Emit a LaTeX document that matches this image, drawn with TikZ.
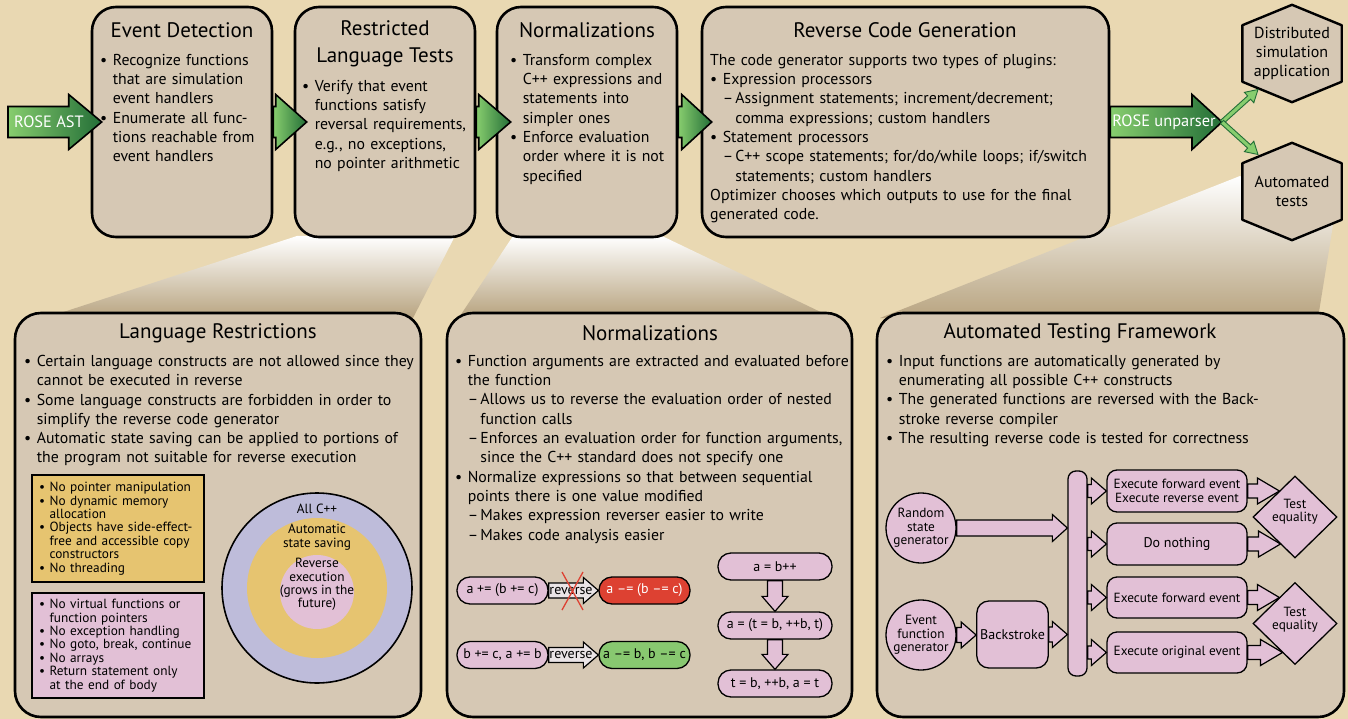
\documentclass[tikz,border=0pt]{standalone}
\usepackage{fontspec}
\setmainfont{PT Sans}
\usetikzlibrary{calc,positioning,shapes.geometric}

\definecolor{bgtan}{RGB}{233,216,178}
\definecolor{boxtan}{RGB}{214,200,180}
\definecolor{beamdk}{RGB}{184,164,128}
\definecolor{pinkfill}{RGB}{226,192,214}
\definecolor{lavfill}{RGB}{190,188,218}
\definecolor{yelfill}{RGB}{230,196,112}
\definecolor{redpill}{RGB}{221,65,50}
\definecolor{grnpill}{RGB}{136,200,112}
\definecolor{grnlt}{RGB}{135,205,110}
\definecolor{grndk}{RGB}{35,110,55}
\definecolor{revgray}{RGB}{234,228,230}

\pgfdeclarelayer{back}
\pgfdeclarelayer{mid}
\pgfsetlayers{back,mid,main}

\newcommand\ttlfont{\fontsize{21}{27}\selectfont}
\newcommand\txtfont{\fontsize{15.8}{19.3}\selectfont}
\newcommand\smfont{\fontsize{13.3}{13.4}\selectfont}
\newcommand\pillfont{\fontsize{14}{15}\selectfont}

% bullet and dash items
\newcommand\itm[1]{\hangindent=0.8em\hangafter=1\noindent\makebox[0.8em][l]{\textbullet}#1\par}
\newcommand\subitm[1]{\hangindent=1.6em\hangafter=1\noindent\hspace*{0.8em}\makebox[0.8em][l]{–}#1\par}

% block arrow: style, from, to, shaft half width, head half width, head length
\newcommand\blockarrow[6][]{%
  \draw[#1] let \p1=(#2), \p2=(#3),
    \n1={atan2(\y2-\y1,\x2-\x1)}, \n2={veclen(\x2-\x1,\y2-\y1)} in
    [shift={(\p1)}, rotate=\n1]
    (0pt,-#4) -- (\n2-#6,-#4) -- (\n2-#6,-#5) -- (\n2,0pt)
    -- (\n2-#6,#5) -- (\n2-#6,#4) -- (0pt,#4) -- cycle;}

% hexagon outline round a node
\newcommand\hexoutline[1]{%
  \begin{pgfonlayer}{mid}
  \draw[hexline] (#1.north) -- ($(#1.north east)!.21!(#1.south east)$)
    -- ($(#1.north east)!.79!(#1.south east)$) -- (#1.south)
    -- ($(#1.north west)!.79!(#1.south west)$)
    -- ($(#1.north west)!.21!(#1.south west)$) -- cycle;
  \end{pgfonlayer}}

\begin{document}
\begin{tikzpicture}[
    x=1pt, y=-1pt,
    stage/.style={draw=black, line width=2.6pt, fill=boxtan, rounded corners=24pt, minimum width=180pt, minimum height=230pt},
    panel/.style={draw=black, line width=2.6pt, fill=boxtan, rounded corners=26pt, minimum height=404pt},
    ttl/.style={font=\ttlfont, align=center, inner sep=0pt},
    txt/.style={font=\txtfont, align=left, inner sep=0pt, anchor=north west},
    hexnode/.style={minimum width=99pt, minimum height=97pt, inner sep=0pt, font=\fontsize{16}{19.3}\selectfont, align=center},
    hexline/.style={draw=black, line width=2.4pt, fill=boxtan, line join=round},
    beam/.style={top color=white, bottom color=beamdk},
    bigarrow/.style={draw=black, line width=1.6pt, left color=grnlt, right color=grndk},
    tinyarrow/.style={draw=grndk, line width=0.9pt, fill=grnlt},
    arrlbl/.style={font=\fontsize{16.4}{18}\selectfont, text=white, inner sep=0pt},
    note/.style={draw=black, line width=1.6pt, font=\smfont, align=left, text width=158pt, inner xsep=7pt},
    ring/.style={circle, inner sep=0pt},
    ringlbl/.style={font=\smfont, align=center, inner sep=0pt},
    pill/.style={draw=black, line width=1.3pt, fill=pinkfill, rounded corners=13pt, minimum height=27pt, inner sep=0pt, font=\pillfont},
    revarrow/.style={draw=black, line width=1.2pt, fill=revgray},
    downarrow/.style={draw=black, line width=1.2pt, fill=pinkfill},
    gen/.style={circle, draw=black, line width=1.3pt, fill=pinkfill, inner sep=0pt, minimum size=70pt, align=center, font=\smfont},
    exec/.style={draw=black, line width=1.3pt, fill=pinkfill, rounded corners=10pt, minimum width=140pt, align=center, font=\smfont},
    eq/.style={diamond, draw=black, line width=1.3pt, fill=pinkfill, inner sep=0pt, minimum width=84pt, minimum height=82pt},
    flowarrow/.style={draw=black, line width=1.2pt, fill=pinkfill}
]
\useasboundingbox (0,0) rectangle (1348,719);

% Background and zoom beams
\begin{pgfonlayer}{back}
\fill[bgtan] (0,0) rectangle (1348,719);
\path[beam] (297,236) -- (455,236) -- (413,318) -- (45,318) -- cycle;
\path[beam] (513,236) -- (662,236) -- (829,316) -- (460,316) -- cycle;
\path[beam] (1240,176) -- (1333,225) -- (1318,318) -- (880,318) -- cycle;
\end{pgfonlayer}

% Pipeline stages
\node[stage] (ed) at (182,122) {};
\node[stage] (rlt) at (385,122) {};
\node[stage] (nrm) at (587,122) {};
\node[stage, minimum width=407pt] (rcg) at (905.5,122) {};

\node[ttl] (edt) at (182,30) {Event Detection};
\node[ttl] (rltt) at (385,43.5) {Restricted\\Language Tests};
\node[ttl] (nrmt) at (587,30) {Normalizations};
\node[ttl] (rcgt) at (905,30) {Reverse Code Generation};

\node[txt, text width=170pt] (edtxt) at (100,54) {%
  \itm{Recognize functions\newline that are simulation\newline event handlers}%
  \itm{Enumerate all func-\newline tions reachable from\newline event handlers}};
\node[txt, text width=172pt] (rlttxt) at (302,80) {%
  \itm{Verify that event\newline functions satisfy\newline reversal requirements,\newline e.g., no exceptions,\newline no pointer arithmetic}};
\node[txt, text width=168pt] (nrmtxt) at (510,54) {%
  \itm{Transform complex\newline C++ expressions and\newline statements into\newline simpler ones}%
  \itm{Enforce evaluation\newline order where it is not\newline specified}};
\node[txt, text width=395pt] (rcgtxt) at (710,54) {%
  \noindent The code generator supports two types of plugins:\par
  \itm{Expression processors}%
  \subitm{Assignment statements; increment/decrement;\newline comma expressions; custom handlers}%
  \itm{Statement processors}%
  \subitm{C++ scope statements; for/do/while loops; if/switch\newline statements; custom handlers}%
  \noindent Optimizer chooses which outputs to use for the final\newline generated code.\par};

% Outputs
\node[hexnode] (dist) at (1292,53.5) {Distributed\\simulation\\application};
\hexoutline{dist}
\node[hexnode] (autot) at (1292,191.5) {Automated\\tests};
\hexoutline{autot}

% Green arrows
\coordinate (astin) at (8,122);
\coordinate (split) at (1222,122);
\blockarrow[bigarrow]{astin}{$(ed.west)+(11,0)$}{15.5pt}{27.5pt}{33pt}
\blockarrow[bigarrow]{ed.east}{$(rlt.west)+(13,0)$}{15.5pt}{27.5pt}{31pt}
\blockarrow[bigarrow]{rlt.east}{$(nrm.west)+(15,0)$}{15.5pt}{27.5pt}{32pt}
\blockarrow[bigarrow]{nrm.east}{$(rcg.west)+(11,0)$}{15.5pt}{27.5pt}{30pt}
\blockarrow[bigarrow]{rcg.east}{split}{15.5pt}{27.5pt}{30pt}
\node[arrlbl] (astlbl) at (49,122) {ROSE AST};
\node[arrlbl] (unplbl) at (1164,122) {ROSE unparser};
\blockarrow[tinyarrow]{split}{$(dist)+(-34,36)$}{2.2pt}{7pt}{12pt}
\blockarrow[tinyarrow]{split}{$(autot)+(-34,-37)$}{2.2pt}{7pt}{12pt}

% Detail panels
\node[panel, minimum width=406pt] (lr) at (218,515) {};
\node[panel, minimum width=405pt] (np) at (649.5,515) {};
\node[panel, minimum width=467pt] (atf) at (1110.5,515) {};

\node[ttl] (lrt) at (218,333) {Language Restrictions};
\node[ttl] (npt) at (650,333) {Normalizations};
\node[ttl] (atft) at (1080,333) {Automated Testing Framework};

\node[txt, text width=398pt] (lrtxt) at (24,355) {%
  \itm{Certain language constructs are not allowed since they\newline cannot be executed in reverse}%
  \itm{Some language constructs are forbidden in order to\newline simplify the reverse code generator}%
  \itm{Automatic state saving can be applied to portions of\newline the program not suitable for reverse execution}};
\node[txt, text width=396pt] (nptxt) at (455,355) {%
  \itm{Function arguments are extracted and evaluated before\newline the function}%
  \subitm{Allows us to reverse the evaluation order of nested\newline function calls}%
  \subitm{Enforces an evaluation order for function arguments,\newline since the C++ standard does not specify one}%
  \itm{Normalize expressions so that between sequential\newline points there is one value modified}%
  \subitm{Makes expression reverser easier to write}%
  \subitm{Makes code analysis easier}};
\node[txt, text width=440pt] (atftxt) at (886,355) {%
  \itm{Input functions are automatically generated by\newline enumerating all possible C++ constructs}%
  \itm{The generated functions are reversed with the Back-\newline stroke reverse compiler}%
  \itm{The resulting reverse code is tested for correctness}};

% Language restriction notes
\node[note, fill=yelfill, minimum height=107pt] (yel) at (118,528.5) {%
  \itm{No pointer manipulation}%
  \itm{No dynamic memory\newline allocation}%
  \itm{Objects have side-effect-\newline free and accessible copy\newline constructors}%
  \itm{No threading}};
\node[note, fill=pinkfill, minimum height=105pt] (pnk) at (118,645.5) {%
  \itm{No virtual functions or\newline function pointers}%
  \itm{No exception handling}%
  \itm{No goto, break, continue}%
  \itm{No arrays}%
  \itm{Return statement only\newline at the end of body}};

% Nested sets
\node[ring, fill=lavfill, draw=black, line width=1.6pt, minimum size=190pt] (allcpp) at (317,588) {};
\node[ring, fill=yelfill, minimum size=140pt] (ass) at (317,588) {};
\node[ring, fill=pinkfill, minimum size=74pt] (revx) at (317,592) {};
\node[ringlbl] (allcppl) at (317,509) {All C++};
\node[ringlbl] (assl) at (317,537) {Automatic\\state saving};
\node[ringlbl] (revxl) at (317,584.5) {Reverse\\execution\\(grows in the\\future)};

% Normalization examples
\node[pill, minimum width=91pt] (p1) at (502.5,590.5) {a += (b += c)};
\node[pill, minimum width=91pt, fill=redpill, text=white] (r1) at (644.5,590.5) {a –= (b –= c)};
\node[pill, minimum width=91pt] (p2) at (502.5,655) {b += c, a += b};
\node[pill, minimum width=91pt, fill=grnpill] (r2) at (644.5,655) {a –= b, b –= c};
\blockarrow[revarrow]{p1.east}{r1.west}{7.5pt}{13pt}{15pt}
\blockarrow[revarrow]{p2.east}{r2.west}{7.5pt}{13pt}{15pt}
\node[font=\pillfont, inner sep=0pt] (rv1) at (571,590.5) {reverse};
\node[font=\pillfont, inner sep=0pt] (rv2) at (571,655) {reverse};
\draw[redpill, line width=1.3pt] (562,572) -- (583,610) (583,572) -- (562,610);

\node[pill, minimum width=114pt] (s1) at (775,566.5) {a = b++};
\node[pill, minimum width=114pt] (s2) at (775,625.5) {a = (t = b, ++b, t)};
\node[pill, minimum width=114pt] (s3) at (775,683.5) {t = b, ++b, a = t};
\blockarrow[downarrow]{s1.south}{s2.north}{7.5pt}{13pt}{15pt}
\blockarrow[downarrow]{s2.south}{s3.north}{7.5pt}{13pt}{15pt}

% Testing framework
\node[gen] (rsg) at (921,528) {Random\\state\\generator};
\node[gen] (efg) at (921,635) {Event\\function\\generator};
\node[exec, minimum width=71pt, minimum height=67pt, rounded corners=12pt, font=\fontsize{14}{15}\selectfont] (bks) at (1012.5,634.5) {Backstroke};
\node[draw=black, line width=1.3pt, fill=pinkfill, rounded corners=8pt, minimum width=19pt, minimum height=205pt] (bar) at (1077.5,573.5) {};
\node[exec, minimum height=42pt] (ea) at (1177,491) {Execute forward event\\Execute reverse event};
\node[exec, minimum height=42pt, font=\fontsize{14}{15}\selectfont] (dn) at (1177,544) {Do nothing};
\node[exec, minimum height=41pt] (ef) at (1177,597.5) {Execute forward event};
\node[exec, minimum height=41pt] (eo) at (1177,652.5) {Execute original event};
\node[eq] (te1) at (1295,517) {};
\node[eq] (te2) at (1295,623.5) {};
\node[ringlbl] (te1l) at (1295,512) {Test\\equality};
\node[ringlbl] (te2l) at (1295,620) {Test\\equality};

\coordinate (q1) at ($(te1.west)!.634!(te1.north)$);
\coordinate (q2) at ($(te1.west)!.66!(te1.south)$);
\coordinate (q3) at ($(te2.west)!.634!(te2.north)$);
\coordinate (q4) at ($(te2.west)!.707!(te2.south)$);

\blockarrow[flowarrow]{rsg.east}{rsg.east -| bar.west}{8pt}{13.5pt}{15pt}
\blockarrow[flowarrow]{efg.east}{efg.east -| bks.west}{7.5pt}{13pt}{15pt}
\blockarrow[flowarrow]{bks.east}{bks.east -| bar.west}{7.5pt}{13pt}{15pt}
\blockarrow[flowarrow]{bar.east |- ea.west}{ea.west}{6.5pt}{13pt}{15pt}
\blockarrow[flowarrow]{bar.east |- dn.west}{dn.west}{6.5pt}{13pt}{15pt}
\blockarrow[flowarrow]{bar.east |- ef.west}{ef.west}{6.5pt}{13pt}{15pt}
\blockarrow[flowarrow]{bar.east |- eo.west}{eo.west}{6.5pt}{13pt}{15pt}
\blockarrow[flowarrow]{ea.east}{ea.east -| q1}{7pt}{13pt}{22pt}
\blockarrow[flowarrow]{dn.east}{dn.east -| q2}{7pt}{13pt}{22pt}
\blockarrow[flowarrow]{ef.east}{ef.east -| q3}{7pt}{13pt}{22pt}
\blockarrow[flowarrow]{eo.east}{eo.east -| q4}{7pt}{13pt}{22pt}

\end{tikzpicture}
\end{document}
